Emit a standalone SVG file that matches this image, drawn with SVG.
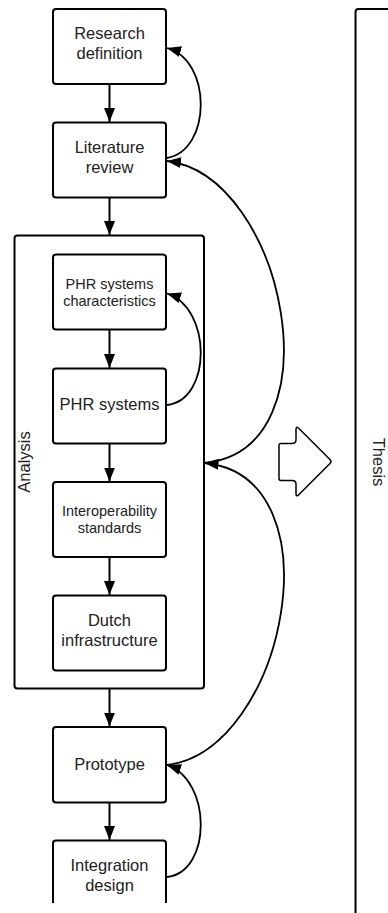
<svg xmlns="http://www.w3.org/2000/svg" width="388" height="913" viewBox="0 0 388 913">
  <style>
    .box { fill: #ffffff; stroke: #000000; stroke-width: 2; }
    .frame { fill: none; stroke: #000000; stroke-width: 2; }
    .lbl { font-family: "Liberation Sans", Arial, sans-serif; font-size: 16.5px; fill: #222222; text-anchor: middle; }
    .sm { font-size: 14.5px; }
    .edge { fill: none; stroke: #000000; stroke-width: 2; }
    .curve { fill: none; stroke: #000000; stroke-width: 1.8; }
    .block { fill: #ffffff; stroke: #000000; stroke-width: 1.5; stroke-linejoin: round; }
  </style>
  <defs>
    <marker id="head" markerUnits="userSpaceOnUse" markerWidth="14" markerHeight="11" refX="14" refY="5.5" orient="auto">
      <path d="M0,0 L14,5.5 L0,11 Z" fill="#000000"/>
    </marker>
    <clipPath id="pageClip">
      <rect x="0" y="0" width="388" height="903"/>
    </clipPath>
  </defs>

  <rect x="0" y="0" width="388" height="913" fill="#ffffff"/>

  <!-- Thesis frame (extends past the right and bottom edges) -->
  <g id="thesis">
    <rect class="frame" x="355.5" y="9" width="80" height="940" rx="3"/>
    <text class="lbl" transform="translate(373,462) rotate(90)">Thesis</text>
  </g>

  <!-- Analysis container -->
  <g id="analysis">
    <rect class="box" x="14.5" y="235.5" width="189.5" height="453" rx="3"/>
    <text class="lbl" transform="translate(29.5,462) rotate(-90)">Analysis</text>
  </g>

  <g id="research-definition">
    <rect class="box" x="53" y="9" width="113" height="75" rx="3"/>
    <text class="lbl" x="109.5" y="39">Research</text>
    <text class="lbl" x="109.5" y="59">definition</text>
  </g>

  <g id="literature-review">
    <rect class="box" x="53" y="122.5" width="113" height="75" rx="3"/>
    <text class="lbl" x="109.5" y="153">Literature</text>
    <text class="lbl" x="109.5" y="173">review</text>
  </g>

  <g id="phr-characteristics">
    <rect class="box" x="53" y="254.5" width="113" height="75" rx="3"/>
    <text class="lbl sm" x="109.5" y="288.5">PHR systems</text>
    <text class="lbl sm" x="109.5" y="305.5">characteristics</text>
  </g>

  <g id="phr-systems">
    <rect class="box" x="53" y="368.5" width="113" height="75" rx="3"/>
    <text class="lbl" x="109.5" y="410">PHR systems</text>
  </g>

  <g id="interoperability">
    <rect class="box" x="53" y="482" width="113" height="75" rx="3"/>
    <text class="lbl sm" x="109.5" y="515.5">Interoperability</text>
    <text class="lbl sm" x="109.5" y="533">standards</text>
  </g>

  <g id="dutch-infrastructure">
    <rect class="box" x="53" y="595.5" width="113" height="75" rx="3"/>
    <text class="lbl" x="109.5" y="625.5">Dutch</text>
    <text class="lbl" x="109.5" y="645.5">infrastructure</text>
  </g>

  <g id="prototype">
    <rect class="box" x="53" y="727" width="113" height="75.5" rx="3"/>
    <text class="lbl" x="109.5" y="769.5">Prototype</text>
  </g>

  <g id="integration-design" clip-path="url(#pageClip)">
    <rect class="box" x="53" y="840.5" width="113" height="75" rx="3"/>
    <text class="lbl" x="109.5" y="871">Integration</text>
    <text class="lbl" x="109.5" y="891">design</text>
  </g>

  <!-- Block arrow towards the thesis -->
  <g id="to-thesis">
    <path class="block" d="M281,443.5 L292,443.5 Q296,443.5 296,439.5 L296,429.5 Q296,425.5 299,428.5 L330,459.5 Q332,461.5 330,463.5 L299,494.5 Q296,497.5 296,493.5 L296,484 Q296,480.5 292,480.5 L281,480.5 Q279,480.5 279,478.5 L279,445.5 Q279,443.5 281,443.5 Z"/>
  </g>

  <!-- Connectors -->
  <g id="connectors">
    <!-- main flow -->
    <path class="edge" d="M109.5,84 L109.5,122" marker-end="url(#head)"/>
    <path class="edge" d="M109.5,197.5 L109.5,235" marker-end="url(#head)"/>
    <path class="edge" d="M109.5,329.5 L109.5,368" marker-end="url(#head)"/>
    <path class="edge" d="M109.5,443.5 L109.5,481.5" marker-end="url(#head)"/>
    <path class="edge" d="M109.5,557 L109.5,595" marker-end="url(#head)"/>
    <path class="edge" d="M109.5,688.5 L109.5,726.5" marker-end="url(#head)"/>
    <path class="edge" d="M109.5,802.5 L109.5,840" marker-end="url(#head)"/>

    <!-- feedback loops -->
    <path class="curve" d="M167,158 C212,150 212,60 167,48" marker-end="url(#head)"/>
    <path class="curve" d="M167,405 C212,400 212,308 167,293.5" marker-end="url(#head)"/>
    <path class="curve" d="M167,877 C212,872 212,780 167,765" marker-end="url(#head)"/>

    <!-- long feedback curves -->
    <path class="curve" d="M204,463 C340,450 285,175 167,161" marker-end="url(#head)"/>
    <path class="curve" d="M167,765 C285,751 340,476 204.5,463" marker-end="url(#head)"/>
  </g>
</svg>
